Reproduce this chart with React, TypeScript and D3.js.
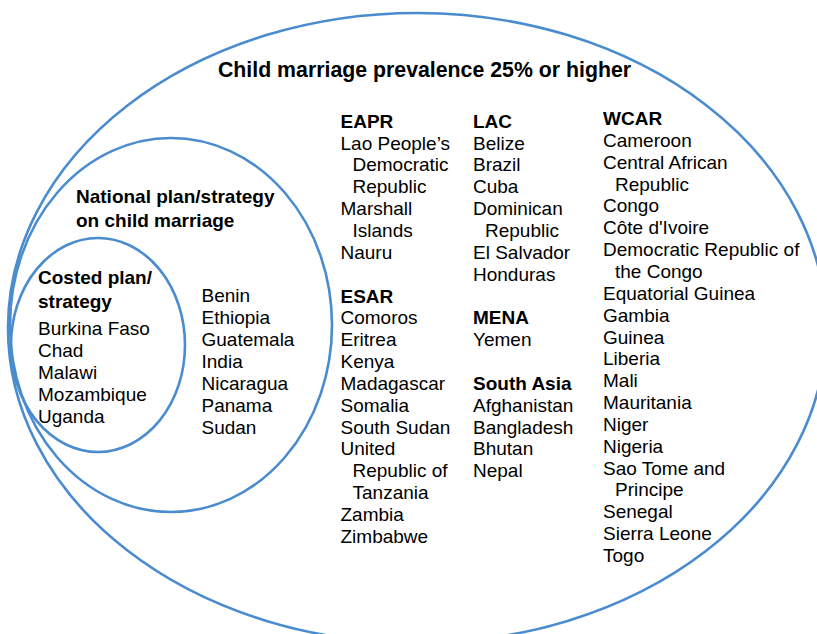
import React from "react";
import * as d3 from "d3";

// ---- Data ----
const titleText = "Child marriage prevalence 25% or higher";
const nationalPlanLabel = ["National plan/strategy", "on child marriage"];
const costedPlanLabel = ["Costed plan/", "strategy"];

const costedCountries = ["Burkina Faso", "Chad", "Malawi", "Mozambique", "Uganda"];
const nationalPlanCountries = ["Benin", "Ethiopia", "Guatemala", "India", "Nicaragua", "Panama", "Sudan"];

// each country is a list of wrapped lines
const eaprCountries = [["Lao People’s", "Democratic", "Republic"], ["Marshall", "Islands"], ["Nauru"]];
const esarCountries = [
  ["Comoros"], ["Eritrea"], ["Kenya"], ["Madagascar"], ["Somalia"], ["South Sudan"],
  ["United", "Republic of", "Tanzania"], ["Zambia"], ["Zimbabwe"],
];
const lacCountries = [["Belize"], ["Brazil"], ["Cuba"], ["Dominican", "Republic"], ["El Salvador"], ["Honduras"]];
const menaCountries = [["Yemen"]];
const southAsiaCountries = [["Afghanistan"], ["Bangladesh"], ["Bhutan"], ["Nepal"]];
const wcarCountries = [
  ["Cameroon"], ["Central African", "Republic"], ["Congo"], ["Côte d'Ivoire"],
  ["Democratic Republic of", "the Congo"], ["Equatorial Guinea"], ["Gambia"], ["Guinea"],
  ["Liberia"], ["Mali"], ["Mauritania"], ["Niger"], ["Nigeria"], ["Sao Tome and", "Principe"],
  ["Senegal"], ["Sierra Leone"], ["Togo"],
];

type Region = { name: string; countries: string[][] };
const column1: Region[] = [
  { name: "EAPR", countries: eaprCountries },
  { name: "ESAR", countries: esarCountries },
];
const column2: Region[] = [
  { name: "LAC", countries: lacCountries },
  { name: "MENA", countries: menaCountries },
  { name: "South Asia", countries: southAsiaCountries },
];
const column3: Region[] = [{ name: "WCAR", countries: wcarCountries }];

const FONT = "'Liberation Sans', Arial, Helvetica, sans-serif";
const STROKE = "#4a8ccf";
const LINE = 21.85;
const FS = 19;

type Line = { text: string; bold: boolean; indent: boolean; slot: number };

function layoutColumn(regions: Region[]): Line[] {
  const out: Line[] = [];
  let slot = 0;
  regions.forEach((r, ri) => {
    if (ri > 0) slot += 1; // blank line between regions
    out.push({ text: r.name, bold: true, indent: false, slot });
    slot += 1;
    r.countries.forEach((c) => {
      c.forEach((t, i) => {
        out.push({ text: t, bold: false, indent: i > 0, slot });
        slot += 1;
      });
    });
  });
  return out;
}

function Column({ regions, x, y0 }: { regions: Region[]; x: number; y0: number }) {
  const lines = layoutColumn(regions);
  const maxSlot = d3.max(lines, (l) => l.slot) || 0;
  const y = d3.scaleLinear().domain([0, maxSlot]).range([y0, y0 + maxSlot * LINE]);
  return (
    <g>
      {lines.map((l, i) => (
        <text
          key={i}
          x={x + (l.indent ? 12 : 0)}
          y={y(l.slot)}
          fontWeight={l.bold ? "bold" : "normal"}
          fontSize={FS}
        >
          {l.text}
        </text>
      ))}
    </g>
  );
}

function SimpleList({ items, x, y0 }: { items: string[]; x: number; y0: number }) {
  const y = d3.scaleLinear().domain([0, 1]).range([y0, y0 + 22]);
  return (
    <g>
      {items.map((t, i) => (
        <text key={i} x={x} y={y(i)} fontSize={FS}>
          {t}
        </text>
      ))}
    </g>
  );
}

export default function App() {
  const W = 817;
  const H = 634;
  const ellipses = [
    { cx: 417, cy: 328, rx: 409, ry: 315 },
    { cx: 171, cy: 325, rx: 161, ry: 187 },
    { cx: 98, cy: 345, rx: 87, ry: 107 },
  ];
  return (
    <svg
      width={W}
      height={H}
      style={{ position: "absolute", left: 0, top: 0, background: "#fff" }}
      fontFamily={FONT}
      fill="#000"
    >
      {ellipses.map((e, i) => (
        <ellipse key={i} cx={e.cx} cy={e.cy} rx={e.rx} ry={e.ry} fill="none" stroke={STROKE} strokeWidth={2.6} />
      ))}
      <text x={424.5} y={77} textAnchor="middle" fontWeight="bold" fontSize={21.3}>
        {titleText}
      </text>
      {nationalPlanLabel.map((t, i) => (
        <text key={t} x={76} y={203 + i * 24} fontWeight="bold" fontSize={FS}>
          {t}
        </text>
      ))}
      {costedPlanLabel.map((t, i) => (
        <text key={t} x={38} y={283.5 + i * 24} fontWeight="bold" fontSize={FS}>
          {t}
        </text>
      ))}
      <SimpleList items={costedCountries} x={38} y0={334.5} />
      <SimpleList items={nationalPlanCountries} x={201.5} y0={302} />
      <Column regions={column1} x={340.5} y0={127.7} />
      <Column regions={column2} x={473} y0={127.7} />
      <Column regions={column3} x={603} y0={125} />
    </svg>
  );
}
